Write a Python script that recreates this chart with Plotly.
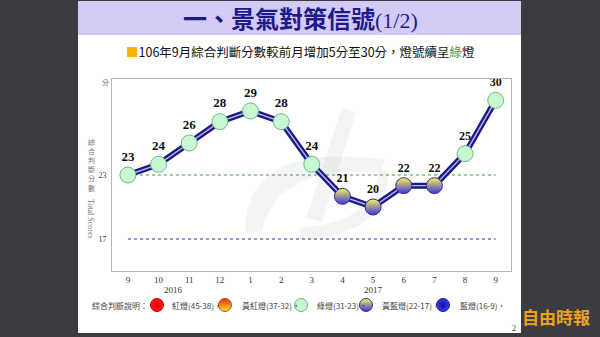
import plotly.graph_objects as go

# ---------------- data ----------------
months = ["9", "10", "11", "12", "1", "2", "3", "4", "5", "6", "7", "8", "9"]
scores = [23, 24, 26, 28, 29, 28, 24, 21, 20, 22, 22, 25, 30]
years = ["2016", "2017"]
year_at = [1.5, 8]                 # category position of year labels
ref_levels = [23, 17]              # dotted threshold lines
y_ticks = [23, 17]
signal_names = ["紅燈", "黃紅燈", "綠燈", "黃藍燈", "藍燈"]
signal_lo = [38, 32, 23, 17, 9]
signal_hi = [45, 37, 31, 22, 16]

W, H = 600, 337
def px(x): return x / W
def py(y): return 1 - y / H

# marker style per signal: (color, gradient type, gradient colour, line colour)
STY = {
    "紅燈": ("#ff1a1a", "radial", "#e00000", "#c00000"),
    "黃紅燈": ("#e8300c", "vertical", "#ffe030", "#c05010"),
    "綠燈": ("#c8f7d3", "none", "#c8f7d3", "#6fbb7e"),
    "黃藍燈": ("#fbf650", "vertical", "#3a30e6", "#30309a"),
    "藍燈": ("#3a3af0", "radial", "#10109a", "#1a1a8a"),
}

def signal_of(v):
    for n, lo, hi in zip(signal_names, signal_lo, signal_hi):
        if lo <= v <= hi:
            return n
    return signal_names[-1]

xs = list(range(len(months)))
sig = [signal_of(v) for v in scores]

fig = go.Figure()

# reference dotted lines
ref_cols = ["#3d9a45", "#2b2b8c"]
for lvl, c in zip(ref_levels, ref_cols):
    fig.add_trace(go.Scatter(x=[xs[0], xs[-1]], y=[lvl, lvl], mode="lines",
                             line=dict(color=c, width=1, dash="dot"),
                             hoverinfo="skip", showlegend=False))

# thick double line
fig.add_trace(go.Scatter(x=xs, y=scores, mode="lines",
                         line=dict(color="#1c1a80", width=6),
                         hoverinfo="skip", showlegend=False))
fig.add_trace(go.Scatter(x=xs, y=scores, mode="lines",
                         line=dict(color="#b8b8f0", width=1.4),
                         hoverinfo="skip", showlegend=False))

# markers + labels
fig.add_trace(go.Scatter(
    x=xs, y=scores, mode="markers+text",
    text=[str(v) for v in scores], textposition="top center",
    textfont=dict(family="Liberation Serif", size=[13 if i < 7 else 12 for i in xs],
                  color="#111", weight="bold"),
    marker=dict(size=16,
                color=[STY[s][0] for s in sig],
                gradient=dict(type=[STY[s][1] for s in sig], color=[STY[s][2] for s in sig]),
                line=dict(color=[STY[s][3] for s in sig], width=1)),
    cliponaxis=False, showlegend=False, hoverinfo="skip"))

# legend markers on an overlay pixel axis
leg_mx = [157, 225, 301, 366, 443]
leg_tx = [170, 240, 315, 380, 458]
fig.add_trace(go.Scatter(
    x=leg_mx, y=[305] * 5, mode="markers", xaxis="x2", yaxis="y2",
    marker=dict(size=13,
                color=[STY[s][0] for s in signal_names],
                gradient=dict(type=[STY[s][1] for s in signal_names],
                              color=[STY[s][2] for s in signal_names]),
                line=dict(color=[STY[s][3] for s in signal_names], width=1)),
    showlegend=False, hoverinfo="skip", cliponaxis=False))

def A(x, y, text, size, color, family="Noto Sans CJK TC", xanchor="center", **kw):
    f = dict(family=family, size=size, color=color)
    if "weight" in kw:
        f["weight"] = kw.pop("weight")
    return dict(x=px(x), y=py(y), xref="paper", yref="paper", showarrow=False,
                xanchor=xanchor, yanchor="middle", text=text, font=f, **kw)

ann = []
ann.append(A(300, 18, "一、景氣對策信號<span style='font-family:Liberation Serif;font-weight:normal;font-size:22px'>(1/2)</span>",
             24, "#1e1a8c", weight="bold"))
ann.append(A(300, 51, "<span style='color:#f5b400'>■</span>106年9月綜合判斷分數較前月增加5分至30分，燈號續呈<span style='color:#3a9a40'>綠</span>燈",
             12.5, "#111"))
ann.append(A(105, 82, "分", 7, "#666"))
ann.append(A(91, 165, "<br>".join("綜合判斷分數"), 7, "#777"))
ann.append(A(91, 219, "Total Scores", 8, "#777", family="Liberation Serif", textangle=90))
for yr, pos in zip(years, year_at):
    ann.append(dict(x=pos, y=py(290), xref="x", yref="paper", showarrow=False,
                    xanchor="center", yanchor="middle",
                    text=yr, font=dict(family="Liberation Serif", size=9, color="#333")))
ann.append(A(90, 305, "綜合判斷說明：", 8, "#444", xanchor="left"))
for n, lo, hi, tx in zip(signal_names, signal_lo, signal_hi, leg_tx):
    ann.append(A(tx, 305, f"{n}({hi}-{lo})，", 8, "#444", xanchor="left"))
ann.append(A(514, 328, "2", 8, "#333", family="Liberation Serif"))
ann.append(A(556, 316, "自由時報", 17, "#f0a020", weight="bold"))

wm = "rgba(150,150,150,0.10)"
shapes = [
    dict(type="rect", xref="paper", yref="paper", x0=px(78), x1=px(521), y0=py(333), y1=py(1),
         fillcolor="white", line=dict(width=0), layer="below"),
    dict(type="rect", xref="paper", yref="paper", x0=px(78), x1=px(521), y0=py(35), y1=py(1),
         fillcolor="#d3cbf6", line=dict(width=0), layer="below"),
    # faint watermark: crescent swoosh + diagonal stroke
    dict(type="path", xref="paper", yref="paper", layer="below", fillcolor=wm, line=dict(width=0),
         path=f"M {px(245)} {py(232)} Q {px(245)} {py(140)} {px(385)} {py(160)} "
              f"L {px(380)} {py(172)} Q {px(275)} {py(165)} {px(262)} {py(232)} Z"),
    dict(type="path", xref="paper", yref="paper", layer="below", fillcolor=wm, line=dict(width=0),
         path=f"M {px(342)} {py(108)} L {px(356)} {py(112)} L {px(322)} {py(222)} L {px(306)} {py(218)} Z"),
    dict(type="path", xref="paper", yref="paper", layer="below", fillcolor=wm, line=dict(width=0),
         path=f"M {px(300)} {py(240)} Q {px(390)} {py(235)} {px(388)} {py(170)} "
              f"L {px(378)} {py(172)} Q {px(375)} {py(222)} {px(300)} {py(228)} Z"),
]

fig.update_layout(
    width=W, height=H, margin=dict(l=0, r=0, t=0, b=0),
    paper_bgcolor="#3b3c40", plot_bgcolor="rgba(0,0,0,0)",
    xaxis=dict(domain=[px(112), px(511)], range=[-0.52, 12.5],
               tickvals=xs, ticktext=months, ticks="", showgrid=False, zeroline=False,
               showline=True, mirror=True, linecolor="#b5b5b5", linewidth=1,
               tickfont=dict(family="Liberation Serif", size=9, color="#333")),
    yaxis=dict(domain=[py(271), py(79)], range=[14, 32],
               tickvals=y_ticks, ticktext=[str(t) for t in y_ticks], ticks="",
               showgrid=False, zeroline=False, showline=True, mirror=True,
               linecolor="#b5b5b5", linewidth=1, ticklabelstandoff=3,
               tickfont=dict(family="Liberation Serif", size=8, color="#444")),
    xaxis2=dict(domain=[0, 1], range=[0, W], visible=False, anchor="y2"),
    yaxis2=dict(domain=[0, 1], range=[H, 0], visible=False, anchor="x2"),
    annotations=ann, shapes=shapes, showlegend=False,
)

fig.write_html("out.html")
